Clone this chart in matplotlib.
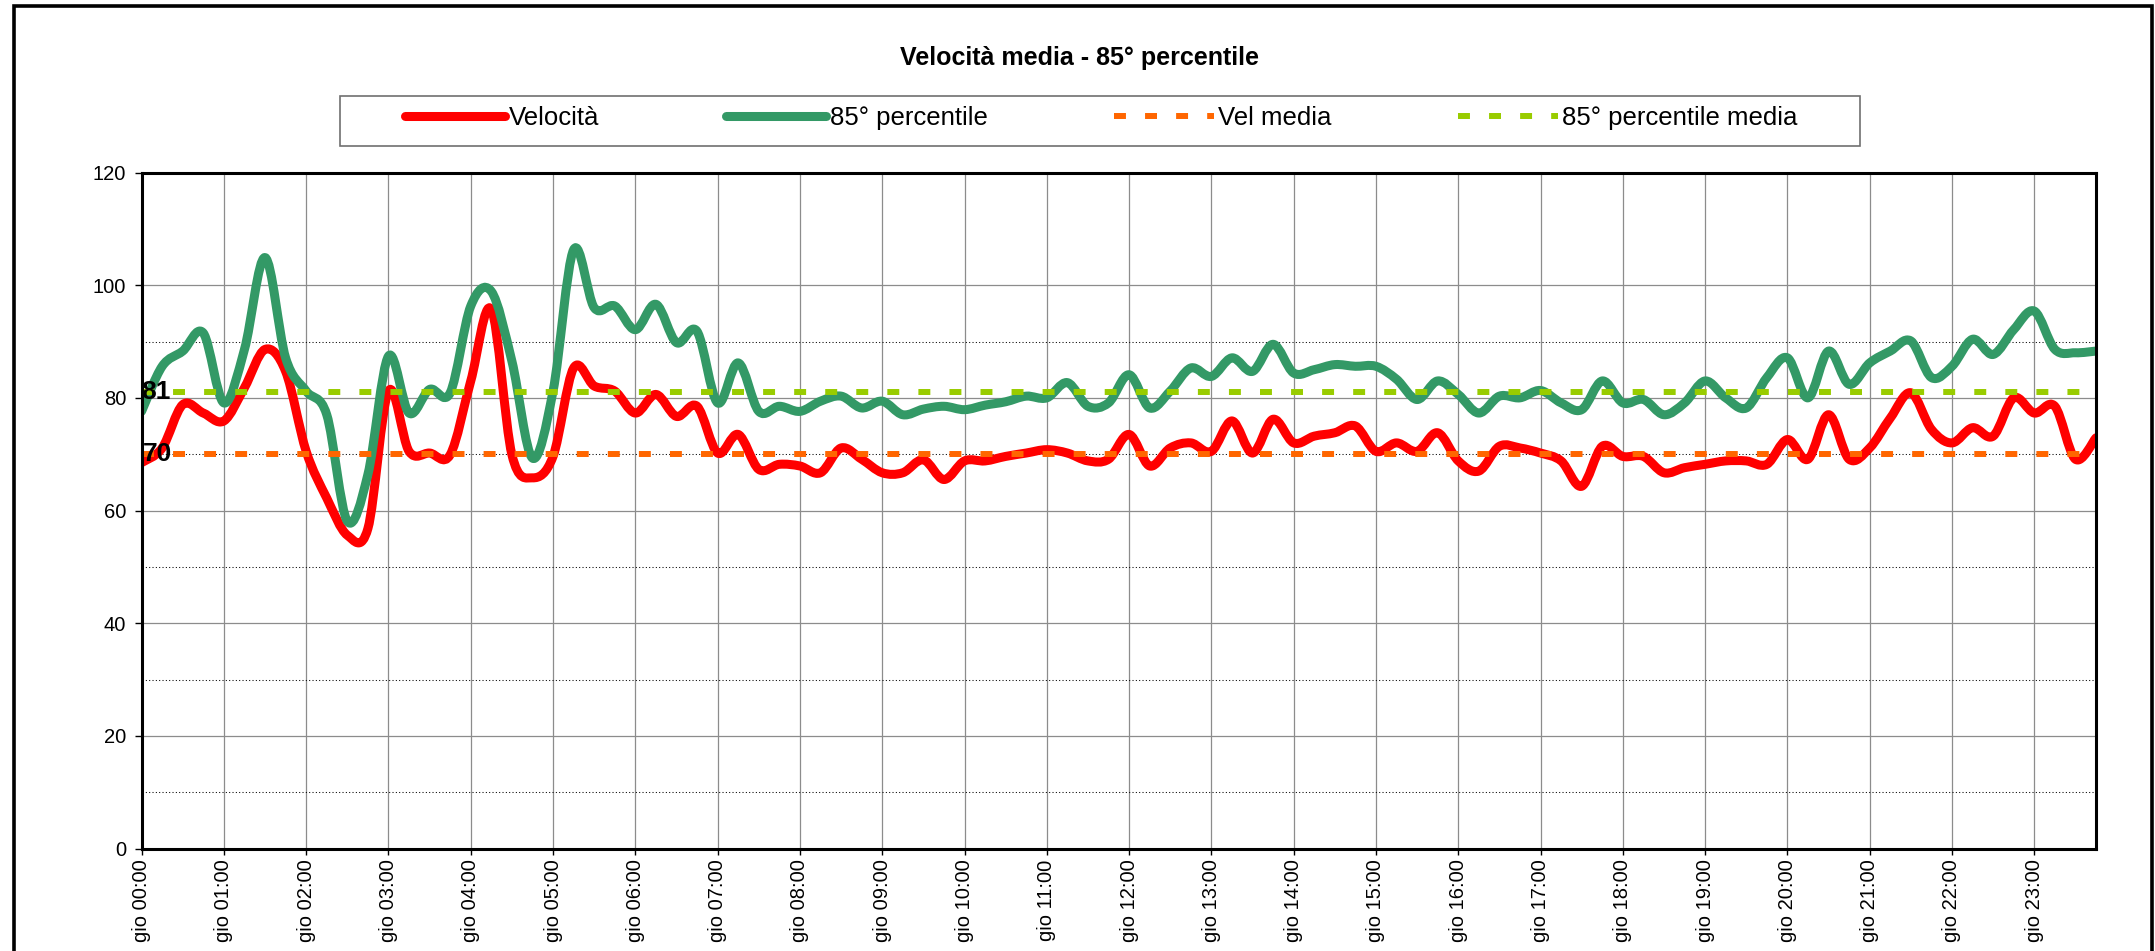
import matplotlib
matplotlib.use("Agg")
import matplotlib.pyplot as plt
from matplotlib.path import Path
from matplotlib.patches import PathPatch, Rectangle
from matplotlib.lines import Line2D
from matplotlib.ticker import FixedLocator

plt.rcParams['font.family'] = ['Liberation Sans', 'DejaVu Sans']

# 15-minute readings over one day (96 samples)
velocita = [
    68.5, 71.1, 78.8, 77.3, 75.9, 81.8, 88.6, 84.7,
    70.5, 62.2, 55.6, 56.8, 81.2, 70.5, 70.2, 69.9,
    83.0, 95.7, 69.9, 65.8, 69.6, 85.3, 82.1, 81.2,
    77.3, 80.6, 76.7, 78.5, 70.2, 73.5, 67.3, 68.2,
    67.9, 66.7, 71.1, 69.1, 66.7, 66.7, 69.0, 65.5,
    68.8, 68.8, 69.6, 70.2, 70.8, 70.2, 68.8, 69.1,
    73.5, 67.9, 71.1, 72.0, 70.5, 75.9, 70.2, 76.2,
    72.0, 73.2, 73.8, 75.0, 70.5, 72.0, 70.5, 73.8,
    68.8, 67.0, 71.4, 71.1, 70.2, 68.8, 64.3, 71.4,
    69.6, 69.6, 66.7, 67.6, 68.2, 68.8, 68.8, 68.2,
    72.6, 69.1, 77.0, 69.1, 71.1, 76.4, 80.9, 74.4,
    72.0, 74.7, 73.2, 80.0, 77.3, 78.5, 69.1, 72.9,
]
percentile85 = [
    77.6, 85.6, 88.3, 91.5, 79.1, 88.6, 104.9, 87.1,
    81.2, 77.0, 58.1, 66.4, 87.4, 77.3, 81.5, 80.9,
    96.3, 98.9, 86.5, 69.3, 81.2, 106.3, 96.0, 96.3,
    92.1, 96.6, 89.8, 91.8, 79.1, 86.2, 77.6, 78.5,
    77.6, 79.4, 80.3, 78.2, 79.4, 77.0, 78.0, 78.5,
    77.9, 78.7, 79.3, 80.3, 80.0, 82.7, 78.5, 79.1,
    84.1, 78.2, 81.2, 85.3, 83.8, 87.1, 84.7, 89.5,
    84.4, 85.0, 85.9, 85.6, 85.6, 83.3, 79.7, 83.0,
    80.6, 77.3, 80.3, 80.0, 81.3, 79.1, 77.9, 83.0,
    79.1, 79.7, 77.0, 79.1, 83.0, 80.0, 78.2, 83.6,
    87.1, 80.0, 88.3, 82.4, 86.2, 88.3, 90.1, 83.6,
    85.6, 90.4, 87.7, 92.1, 95.4, 88.6, 88.0, 88.3,
]
vel_media = 70
perc_media = 81
hour_labels = [f"gio {h:02d}:00" for h in range(24)]

series_names = ["Velocità", "85° percentile", "Vel media", "85° percentile media"]
RED = "#FF0000"
GREEN = "#339966"
ORANGE = "#FF6600"
LIME = "#99CC00"

W, H = 2155, 951
fig = plt.figure(figsize=(W / 100, H / 100), dpi=100)
fig.patch.set_facecolor("white")


def fx(px):
    return px / W


def fy(py):
    return 1 - py / H


ax = fig.add_axes([fx(141.6), fy(848.5), fx(2096) - fx(141.6), fy(172.5) - fy(848.5)])
xs = list(range(len(velocita)))
ax.set_xlim(0, len(xs) - 1)
ax.set_ylim(0, 120)


def smooth_path(x, y):
    """Cubic Bezier path through the points (Catmull-Rom style control points)."""
    n = len(x)
    verts = [(x[0], y[0])]
    codes = [Path.MOVETO]
    for i in range(n - 1):
        a = i - 1 if i > 0 else i
        d = i + 2 if i + 2 < n else i + 1
        c1 = (x[i] + (x[i + 1] - x[a]) / 6, y[i] + (y[i + 1] - y[a]) / 6)
        c2 = (x[i + 1] - (x[d] - x[i]) / 6, y[i + 1] - (y[d] - y[i]) / 6)
        verts += [c1, c2, (x[i + 1], y[i + 1])]
        codes += [Path.CURVE4] * 3
    return Path(verts, codes)


LW_MAIN = 6.5
LW_MEAN = 4.3
MEAN_DASH = (0, (2.0, 3.2))

for vals, col, z in [(velocita, RED, 3), (percentile85, GREEN, 4)]:
    patch = PathPatch(smooth_path(xs, vals), fill=False, edgecolor=col,
                      lw=LW_MAIN, capstyle="round", joinstyle="round", zorder=z)
    ax.add_patch(patch)

ax.plot(xs, [vel_media] * len(xs), color=ORANGE, lw=LW_MEAN, linestyle=MEAN_DASH,
        dash_capstyle="butt", zorder=5)
ax.plot(xs, [perc_media] * len(xs), color=LIME, lw=LW_MEAN, linestyle=MEAN_DASH,
        dash_capstyle="butt", zorder=5)

# value labels on the average lines
ax.annotate(f"{perc_media}", xy=(0, perc_media), xytext=(0, 0), textcoords="offset points",
            ha="left", va="center", fontsize=19, fontweight="bold", zorder=6)
ax.annotate(f"{vel_media}", xy=(0, vel_media), xytext=(1, 0), textcoords="offset points",
            ha="left", va="center", fontsize=19, fontweight="bold", zorder=6)

# axes and grid
ax.set_xticks(range(0, len(xs), 4))
ax.set_xticklabels(hour_labels, rotation=90, ha="center", va="top", fontsize=14.5)
ax.set_yticks(range(0, 121, 20))
ax.yaxis.set_minor_locator(FixedLocator([10, 30, 50, 70, 90]))
ax.tick_params(axis="y", which="major", labelsize=14.5, length=5, width=1, pad=6, direction="out")
ax.tick_params(axis="y", which="minor", length=0)
ax.tick_params(axis="x", which="major", length=4, width=1, pad=4, direction="out")
ax.set_axisbelow(True)
ax.grid(True, which="major", axis="both", color="#8c8c8c", lw=0.9)
ax.grid(True, which="minor", axis="y", color="black", lw=0.75, linestyle=(0, (1, 2.2)))
for sp in ax.spines.values():
    sp.set_linewidth(2.2)
    sp.set_color("black")
    sp.set_zorder(7)

# title
fig.text(fx(1079), fy(58), "Velocità media - 85° percentile", ha="center", va="center",
         fontsize=18, fontweight="bold")

# legend
handles = [
    Line2D([], [], color=RED, lw=LW_MAIN, solid_capstyle="round"),
    Line2D([], [], color=GREEN, lw=LW_MAIN, solid_capstyle="round"),
    Line2D([], [], color=ORANGE, lw=LW_MEAN, linestyle=MEAN_DASH, dash_capstyle="butt"),
    Line2D([], [], color=LIME, lw=LW_MEAN, linestyle=MEAN_DASH, dash_capstyle="butt"),
]
fig.legend(handles, series_names, ncol=4, loc="center",
           bbox_to_anchor=(fx(405), fy(138), fx(1797) - fx(405), fy(98) - fy(138)),
           mode="expand", frameon=False, fontsize=18.5, handlelength=3.9,
           handletextpad=0.15, borderpad=0, borderaxespad=0)
fig.patches.append(Rectangle((fx(339.5), fy(146)), fx(1859.6) - fx(339.5), fy(96) - fy(146),
                             transform=fig.transFigure, fill=False, edgecolor="#707070", lw=1.2))

# outer chart frame
fig.patches.append(Rectangle((fx(14), -0.05), fx(2152) - fx(14), fy(6) + 0.05,
                             transform=fig.transFigure, fill=False, edgecolor="black", lw=2.6,
                             clip_on=False))

fig.savefig("out.png", dpi=100)
